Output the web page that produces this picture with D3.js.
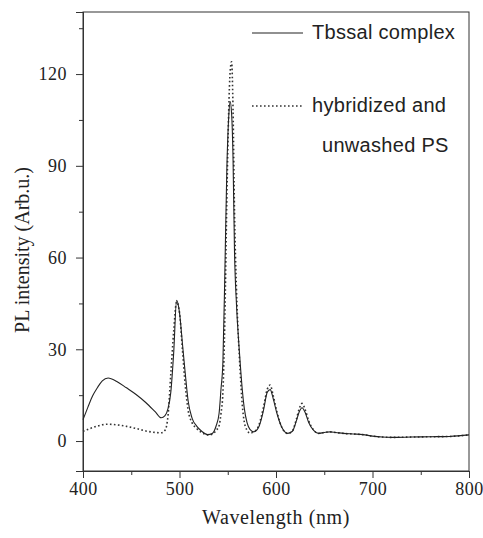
<!DOCTYPE html>
<html>
<head>
<meta charset="utf-8">
<script src="https://cdn.jsdelivr.net/npm/d3@7"></script>
<style>
  html, body { margin: 0; padding: 0; background: #fff; }
  svg { display: block; }
</style>
</head>
<body>
<svg id="chart" width="483" height="538"></svg>
<script>
// ---- data ----
const wavelengths = [400,405,410,415,420,426,435,445,455,465,475,481,485,488,491,494,497,500,503,506,509,513,518,523,529,534,538,541,543,545,547,549,551,552.5,554,555.5,557,559,561,563,565,567,570,573,577,582,587,591,594,597,601,606,612,617,621,624,627,630,634,639,644,650,656,662,670,680,690,700,710,720,740,760,780,800];

const tbssalComplex = [7,11,14.8,17.5,19.7,20.6,19.5,17.4,15.2,12.6,9.5,7.6,8.3,10.5,16,29,46,42,32,22,13,7.5,4.8,3.2,2.1,2.5,5,9,17,26,55,88,106,111,107,92,62,45,34,25,17,11,6,3.8,3.0,4.5,10,16,16.8,14,9,4.5,2.5,3.2,6.5,9.5,10.9,9.5,6,3.5,2.5,2.8,3.0,2.8,2.5,2.3,2.1,1.6,1.3,1.2,1.3,1.4,1.5,2.0];

const hybridizedPS = [3.2,3.8,4.4,4.9,5.3,5.5,5.3,4.8,4.1,3.3,2.8,2.7,3.5,8,22,36,45.5,42,30,18,10,6,4,2.8,2.0,2.2,3.5,5,9,16,40,78,108,121,124,108,75,50,34,22,12,6.5,3.5,2.6,3.0,5,11,17,18.3,15,9.5,4.5,2.5,3.3,7,10.5,12.3,10.5,6.5,3.6,2.5,2.8,3.0,2.8,2.5,2.3,2.1,1.6,1.3,1.2,1.3,1.4,1.5,2.0];

const xTicks = [400, 500, 600, 700, 800];
const xMinorTicks = [450, 550, 650, 750];
const yTicks = [0, 30, 60, 90, 120];
const yMinorTicks = [15, 45, 75, 105, 135];
const xDomain = [400, 800];
const yDomain = [-9.8, 140.3];

const seriesNames = ["Tbssal complex", "hybridized and", "unwashed PS"];

// ---- layout ----
const svg = d3.select("#chart");
const mLeft = 83, mRight = 469, mTop = 12, mBottom = 471;
const ink = "#222";
const serif = "'Liberation Serif','Times New Roman',serif";
const sans = "'Liberation Sans',Arial,sans-serif";

const x = d3.scaleLinear().domain(xDomain).range([mLeft, mRight]);
const y = d3.scaleLinear().domain(yDomain).range([mBottom, mTop]);

// frame
svg.append("rect")
  .attr("x", mLeft).attr("y", mTop)
  .attr("width", mRight - mLeft).attr("height", mBottom - mTop)
  .attr("fill", "none").attr("stroke", "#333").attr("stroke-width", 1);

// x axis (major + minor)
svg.append("g").attr("transform", `translate(0,${mBottom})`)
  .call(d3.axisBottom(x).tickValues(xTicks).tickSize(7).tickPadding(4).tickFormat(d3.format("d")));
svg.append("g").attr("transform", `translate(0,${mBottom})`)
  .call(d3.axisBottom(x).tickValues(xMinorTicks).tickSize(4).tickFormat(""));

// y axis (major + minor)
svg.append("g").attr("transform", `translate(${mLeft},0)`)
  .call(d3.axisLeft(y).tickValues(yTicks).tickSize(7).tickPadding(9).tickFormat(d3.format("d")));
svg.append("g").attr("transform", `translate(${mLeft},0)`)
  .call(d3.axisLeft(y).tickValues(yMinorTicks).tickSize(4).tickFormat(""));

svg.selectAll(".domain").attr("stroke", "#333");
svg.selectAll(".tick line").attr("stroke", "#333");
svg.selectAll(".tick text")
  .attr("font-family", serif).attr("font-size", 18)
  .attr("letter-spacing", 0.5).attr("fill", ink);

// axis titles
svg.append("text")
  .attr("x", (mLeft + mRight) / 2).attr("y", 524)
  .attr("text-anchor", "middle")
  .attr("font-family", serif).attr("font-size", 20).attr("letter-spacing", 0.6)
  .attr("fill", ink)
  .text("Wavelength (nm)");

svg.append("text")
  .attr("transform", `translate(29,250) rotate(-90)`)
  .attr("text-anchor", "middle")
  .attr("font-family", serif).attr("font-size", 20)
  .attr("fill", ink)
  .text("PL intensity (Arb.u.)");

// lines
const pts1 = wavelengths.map((w, i) => [w, tbssalComplex[i]]);
const pts2 = wavelengths.map((w, i) => [w, hybridizedPS[i]]);
const line = d3.line().x(d => x(d[0])).y(d => y(d[1])).curve(d3.curveMonotoneX);

svg.append("path").datum(pts2)
  .attr("d", line).attr("fill", "none")
  .attr("stroke", "#333").attr("stroke-width", 1.6)
  .attr("stroke-dasharray", "1.6,2.4");

svg.append("path").datum(pts1)
  .attr("d", line).attr("fill", "none")
  .attr("stroke", "#222").attr("stroke-width", 1.1);

// legend
const lg = svg.append("g");
lg.append("line").attr("x1", 252).attr("x2", 303).attr("y1", 33).attr("y2", 33)
  .attr("stroke", "#222").attr("stroke-width", 1.1);
lg.append("text").attr("x", 312).attr("y", 39)
  .attr("font-family", sans).attr("font-size", 20).attr("letter-spacing", 0.3).attr("fill", ink)
  .text(seriesNames[0]);
lg.append("line").attr("x1", 252).attr("x2", 303).attr("y1", 106).attr("y2", 106)
  .attr("stroke", "#333").attr("stroke-width", 1.6).attr("stroke-dasharray", "1.6,2.4");
lg.append("text").attr("x", 312).attr("y", 112)
  .attr("font-family", sans).attr("font-size", 20).attr("letter-spacing", 0.3).attr("fill", ink)
  .text(seriesNames[1]);
lg.append("text").attr("x", 322).attr("y", 152)
  .attr("font-family", sans).attr("font-size", 20).attr("letter-spacing", 0.3).attr("fill", ink)
  .text(seriesNames[2]);
</script>
</body>
</html>
